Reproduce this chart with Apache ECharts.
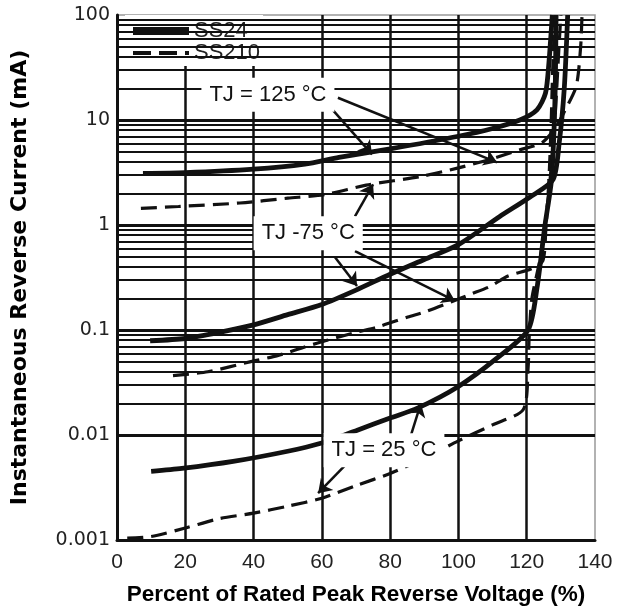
<!DOCTYPE html>
<html>
<head>
<meta charset="utf-8">
<script src="https://cdn.jsdelivr.net/npm/echarts@6/dist/echarts.min.js"></script>
<style>
  html, body { margin: 0; padding: 0; background: #fff; }
  #chart { width: 622px; height: 611px; }
</style>
</head>
<body>
<div id="chart"></div>
<script>
// x: percent of rated peak reverse voltage, y: reverse current (mA)
const xTicks = [0, 20, 40, 60, 80, 100, 120, 140];
const yTickLabels = ['0.001', '0.01', '0.1', '1', '10', '100'];
const decades = [0.001, 0.01, 0.1, 1, 10];
const minorSteps = [2, 3, 4, 5, 6, 7, 8, 9];

// SS24 (solid)
const ss24_125 = [[7.6, 3.1], [20, 3.15], [40, 3.4], [55, 3.8], [65, 4.4], [80, 5.3], [100, 7], [110, 8.3], [118, 10], [123, 12.5], [125.5, 18], [126.5, 35], [127.5, 100]];
const ss24_75 = [[9.7, 0.079], [20, 0.083], [30, 0.095], [40, 0.112], [50, 0.14], [60, 0.175], [70, 0.24], [80, 0.34], [90, 0.47], [100, 0.65], [112, 1.2], [121, 1.85], [127.7, 2.7], [129.5, 6], [131, 20], [132, 100]];
const ss24_25 = [[10, 0.0045], [19, 0.0048], [34, 0.0056], [50, 0.007], [59.4, 0.0083], [70, 0.011], [80, 0.0145], [88, 0.018], [100, 0.029], [111, 0.053], [120.4, 0.1], [123, 0.25], [125.3, 0.97], [127.2, 2.6], [128, 8], [128.4, 25], [128.6, 100]];

// SS210 (dashed)
const ss210_125 = [[7, 1.44], [18, 1.5], [36, 1.62], [50, 1.8], [61, 1.95], [73, 2.4], [89, 2.9], [100, 3.5], [109, 4.2], [118, 5.2], [124.5, 6.1], [128.5, 8.5], [131, 12], [134.5, 21], [135.8, 50], [136.2, 100]];
const ss210_75 = [[16.4, 0.0367], [26.6, 0.04], [39.2, 0.05], [47, 0.057], [55, 0.069], [61, 0.079], [70.6, 0.096], [76.4, 0.107], [85.2, 0.133], [90.2, 0.149], [97.8, 0.185], [103.7, 0.22], [109.5, 0.262], [114.5, 0.327], [121.2, 0.381], [124.7, 0.454], [125.6, 0.91], [126.5, 2.7], [127.1, 8.1], [127.7, 37], [128.3, 100]];
const ss210_25 = [[3, 0.00104], [10, 0.00108], [20, 0.0013], [30, 0.0016], [40, 0.0018], [50, 0.0021], [60, 0.0025], [70, 0.0033], [80, 0.0043], [90, 0.006], [100, 0.0088], [110, 0.0125], [119, 0.0175], [120.4, 0.043], [120.7, 0.083], [121.5, 0.198], [123.9, 0.474], [125.9, 1.41], [127.4, 4.2], [128.6, 15.6], [129.4, 46.5], [130, 100]];

// temperature notes and their arrows
const tjLabels = ['TJ = 125 °C', 'TJ -75 °C', 'TJ = 25 °C'];
const tjLabelX = [44.2, 56, 78.2];
const tjLabelY = [17.4, 0.836, 0.00714];
const arrowFrom = [[61.8, 14], [64.7, 16.3], [69.7, 1.21], [63.8, 0.495], [69.7, 0.564], [85.8, 0.0093], [66.8, 0.00515]];
const arrowTo = [[74.7, 4.7], [111.3, 3.95], [75, 2.44], [70.3, 0.262], [99, 0.189], [89, 0.02], [58.9, 0.00279]];

const minorLines = [];
decades.forEach(d => minorSteps.forEach(k => minorLines.push({ yAxis: d * k })));

const ink = '#111';
const solid = { color: ink, width: 4.8 };
const dashed = { color: ink, width: 3.2, type: [16, 8] };

function curve(name, data, style) {
  return {
    name: name,
    type: 'line',
    data: data,
    symbol: 'none',
    smooth: 0.25,
    z: 5,
    lineStyle: style,
    itemStyle: { color: ink }
  };
}

const chart = echarts.init(document.getElementById('chart'));
chart.setOption({
  animation: false,
  backgroundColor: '#fff',
  grid: {
    left: 117, right: 27, top: 15, bottom: 69,
    show: true, borderColor: '#999', borderWidth: 1.5
  },
  legend: {
    left: 125, top: 15, orient: 'vertical',
    backgroundColor: '#fff',
    padding: [5, 3, 2, 8],
    itemGap: 0, itemWidth: 56, itemHeight: 14,
    textStyle: { fontSize: 22, fontFamily: 'Liberation Sans', color: '#222', lineHeight: 20 },
    data: [
      { name: 'SS24', icon: 'path://M0,0H56V8H0Z', itemStyle: { color: ink } },
      { name: 'SS210', icon: 'path://M0,0H18V4H0Z M26,0H44V4H26Z M52,0H56V4H52Z', itemStyle: { color: ink } }
    ]
  },
  xAxis: {
    type: 'value', min: 0, max: 140, interval: 20,
    name: 'Percent of Rated Peak Reverse Voltage (%)',
    nameLocation: 'middle', nameGap: 43,
    nameTextStyle: { fontWeight: 'bold', fontSize: 22.5, fontFamily: 'Liberation Sans', color: '#000' },
    axisLine: { lineStyle: { color: ink, width: 3 } },
    axisTick: { show: false },
    axisLabel: { fontSize: 21, fontFamily: 'Liberation Sans', color: '#222', margin: 12 },
    splitLine: { show: true, showMaxLine: false, lineStyle: { color: ink, width: 2.5 } }
  },
  yAxis: {
    type: 'log', logBase: 10, min: 0.001, max: 100,
    name: 'Instantaneous Reverse Current (mA)',
    nameLocation: 'middle', nameGap: 86,
    nameTextStyle: { fontWeight: 'bold', fontSize: 22, fontFamily: 'DejaVu Sans', color: '#000' },
    axisLine: { lineStyle: { color: ink, width: 3 } },
    axisTick: { show: false },
    axisLabel: {
      fontSize: 19, fontFamily: 'DejaVu Sans', color: '#222', margin: 7,
      formatter: v => yTickLabels[Math.round(Math.log10(v)) + 3]
    },
    splitLine: { show: true, showMaxLine: false, lineStyle: { color: ink, width: 3 } }
  },
  series: [
    {
      name: 'grid', type: 'line', data: [], z: 1,
      markLine: {
        silent: true, symbol: ['none', 'none'], label: { show: false },
        lineStyle: { color: ink, width: 2, type: 'solid' },
        data: minorLines
      }
    },
    curve('SS24', ss24_125, solid),
    curve('SS24', ss24_75, solid),
    curve('SS24', ss24_25, solid),
    curve('SS210', ss210_125, dashed),
    curve('SS210', ss210_75, dashed),
    curve('SS210', ss210_25, dashed),
    {
      name: 'arrows', type: 'lines', coordinateSystem: 'cartesian2d', z: 15,
      symbol: ['none', 'arrow'], symbolSize: 13,
      lineStyle: { color: ink, width: 2.5, opacity: 1 },
      data: arrowFrom.map((p, i) => ({ coords: [p, arrowTo[i]] }))
    },
    {
      name: 'notes', type: 'scatter', z: 20, symbolSize: 1,
      itemStyle: { color: '#fff' },
      emphasis: { disabled: true },
      label: {
        show: true, position: 'inside', opacity: 1,
        formatter: p => p.value[2],
        fontSize: 22, fontFamily: 'Liberation Sans', color: '#111',
        textBorderWidth: 0, textShadowBlur: 0,
        backgroundColor: '#fff', padding: [6, 8]
      },
      data: tjLabels.map((t, i) => [tjLabelX[i], tjLabelY[i], t])
    }
  ]
});
</script>
</body>
</html>
